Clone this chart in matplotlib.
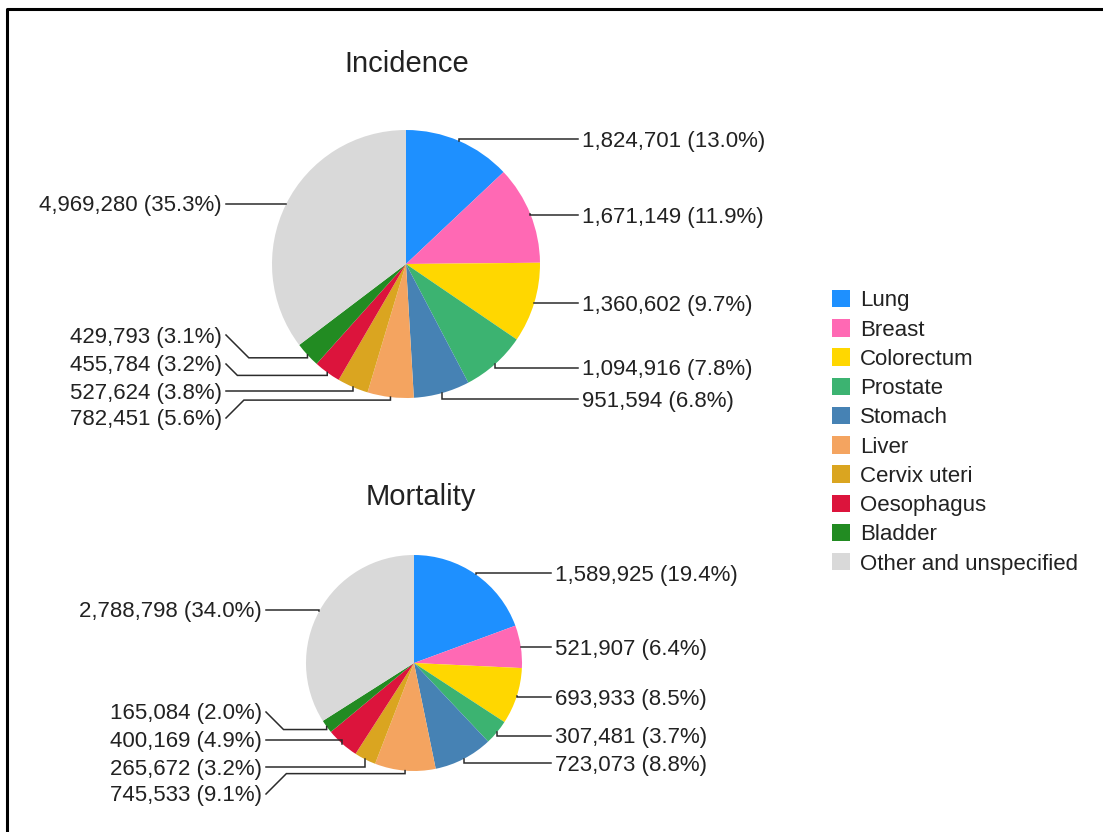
import numpy as np
import matplotlib.pyplot as plt
from matplotlib.patches import Patch

plt.rcParams['font.family'] = ['Liberation Sans', 'DejaVu Sans']

W, H = 1103, 832

categories = ['Lung', 'Breast', 'Colorectum', 'Prostate', 'Stomach', 'Liver',
              'Cervix uteri', 'Oesophagus', 'Bladder', 'Other and unspecified']
incidence = [1824701, 1671149, 1360602, 1094916, 951594, 782451,
             527624, 455784, 429793, 4969280]
mortality = [1589925, 521907, 693933, 307481, 723073, 745533,
             265672, 400169, 165084, 2788798]
colors = ['#1E90FF', '#FF69B4', '#FFD700', '#3CB371', '#4682B4', '#F4A460',
          '#DAA520', '#DC143C', '#228B22', '#D9D9D9']

# label layout (pixel rows of each label, side of the pie)
inc_label_y = [139, 215, 303, 368, 399, 418, 391, 364, 335, 204]
mort_label_y = [573, 647, 697, 736, 763, 794, 767, 740, 712, 610]
sides = ['r', 'r', 'r', 'r', 'r', 'l', 'l', 'l', 'l', 'l']

fig = plt.figure(figsize=(W / 100, H / 100), dpi=100)
ax = fig.add_axes([0, 0, 1, 1])

line_col = '#2b2b2b'
txt_col = '#222222'


def draw_pie(vals, cx, cy, r, label_y, right_x, left_x, title, title_xy):
    total = float(sum(vals))
    ax.pie(vals, colors=colors, startangle=90, counterclock=False,
           center=(cx, H - cy), radius=r, wedgeprops=dict(linewidth=0))
    cum = 0
    for v, ly, side in zip(vals, label_y, sides):
        mid = np.radians(90 - 360 * (cum + v / 2) / total)
        cum += v
        px = cx + r * np.cos(mid)
        py = cy - r * np.sin(mid)
        if abs(ly - py) <= 8:
            yh = ly
        else:
            yh = py + 3
        dx = abs(ly - yh)
        if side == 'r':
            ex = right_x - 4
            xs = [px, px, ex - dx, ex]
            ha = 'left'
            tx = right_x
        else:
            ex = left_x + 4
            xs = [px, px, ex + dx, ex]
            ha = 'right'
            tx = left_x
        ys = [py, yh, yh, ly]
        ax.plot(xs, [H - y for y in ys], color=line_col, lw=1.1,
                solid_joinstyle='miter')
        txt = '{:,} ({:.1f}%)'.format(v, 100 * v / total)
        ax.text(tx, H - ly - 2, txt, ha=ha, va='center', fontsize=16, color=txt_col)
    ax.text(title_xy[0], H - title_xy[1] - 2, title, ha='center', va='center',
            fontsize=21, color=txt_col)


draw_pie(incidence, 406, 264, 134, inc_label_y, 582, 222, 'Incidence', (407, 62))
draw_pie(mortality, 414, 663, 108, mort_label_y, 555, 262, 'Mortality', (421, 495))

handles = [Patch(facecolor=c, edgecolor='none') for c in colors]
ax.legend(handles, categories, loc='upper left',
          bbox_to_anchor=(832, H - 290), bbox_transform=ax.transData,
          frameon=False, fontsize=16, borderpad=0, borderaxespad=0,
          handlelength=0.82, handleheight=0.82, handletextpad=0.45,
          labelspacing=0.355, labelcolor=txt_col)

# frame at the top and left
ax.plot([7, 7, W], [0, H - 9, H - 9], color='black', lw=2.2, clip_on=False)

ax.set_xlim(0, W)
ax.set_ylim(0, H)
ax.set_aspect('equal')
ax.axis('off')

fig.savefig('out.png', dpi=100)
